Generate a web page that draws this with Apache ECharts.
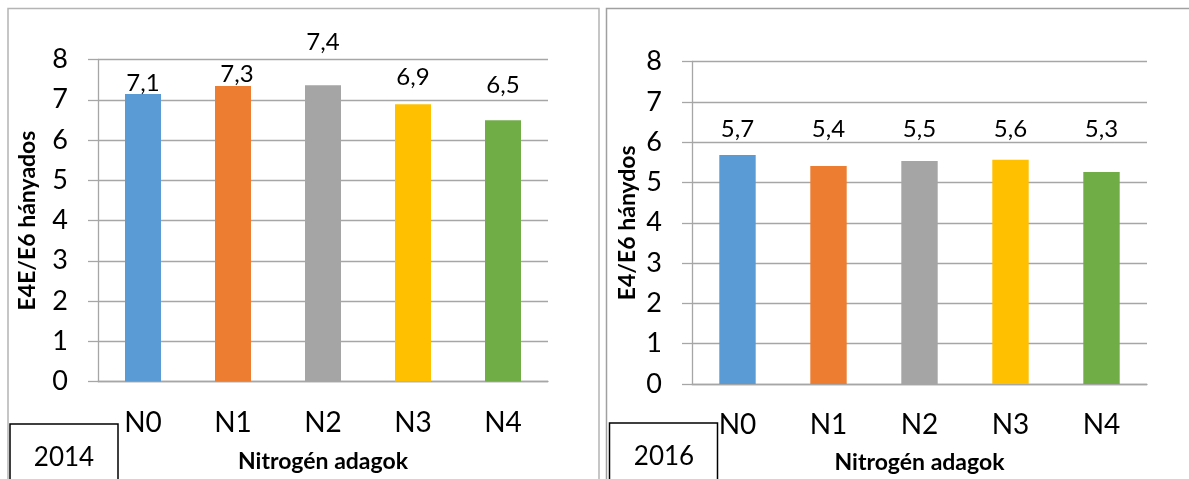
<!DOCTYPE html>
<html>
<head>
<meta charset="utf-8">
<script src="https://cdn.jsdelivr.net/npm/echarts@6/dist/echarts.min.js"></script>
<style>
html,body{margin:0;padding:0;background:#fff;}
#c{width:1189px;height:479px;}
</style>
</head>
<body>
<div id="c"></div>
<script>
// ---- data ----
var categories = ['N0', 'N1', 'N2', 'N3', 'N4'];
var values2014 = [7.14, 7.34, 7.36, 6.89, 6.49];
var values2016 = [5.68, 5.41, 5.53, 5.56, 5.26];
var yTicks = [0, 1, 2, 3, 4, 5, 6, 7, 8];
var yName2014 = 'E4E/E6 hányados';
var yName2016 = 'E4/E6 hánydos';
var xName = 'Nitrogén adagok';
var year1 = '2014';
var year2 = '2016';

// ---- styles ----
var barColors = ['#5B9BD5', '#ED7D31', '#A5A5A5', '#FFC000', '#70AD47'];
var lift2014 = [[0, 2], [4, 1], [0, -30], [0, -14], [0, -22]];
var lift2016 = [[0, -13], [0, -24], [0, -19], [0, -18], [0, -30]];
var FONT = 'Lato, "Open Sans", sans-serif';
var GRID = '#A6A6A6';

function fmt(v) { return v.toFixed(1).replace('.', ','); }

function seriesData(vals, lifts) {
  return vals.map(function (v, i) {
    return {
      value: v,
      itemStyle: { color: barColors[i] },
      label: { offset: lifts[i] }
    };
  });
}

function yAxis(idx, name, gap) {
  return {
    type: 'value', gridIndex: idx, min: yTicks[0], max: yTicks[yTicks.length - 1], interval: 1,
    name: name, nameLocation: 'middle', nameGap: gap,
    nameTextStyle: { fontFamily: FONT, fontWeight: 'bold', fontSize: 23, color: '#000' },
    axisLine: { show: true, lineStyle: { color: GRID, width: 1.3 } },
    axisTick: { show: true, length: 10, lineStyle: { color: GRID, width: 1.3 } },
    axisLabel: { margin: 30, fontFamily: FONT, fontSize: 27, color: '#000' },
    splitLine: { show: true, lineStyle: { color: GRID, width: 1.3 } }
  };
}

function xAxis(idx, gap) {
  return {
    type: 'category', gridIndex: idx, data: categories,
    name: xName, nameLocation: 'middle', nameGap: gap,
    nameTextStyle: { fontFamily: FONT, fontWeight: 'bold', fontSize: 23, color: '#000' },
    axisLine: { show: true, lineStyle: { color: GRID, width: 1.3 } },
    axisTick: { show: false },
    axisLabel: { margin: 27, fontFamily: FONT, fontSize: 28, color: '#000' }
  };
}

function barSeries(idx, vals, lifts) {
  return {
    type: 'bar', xAxisIndex: idx, yAxisIndex: idx,
    barWidth: '40%',
    data: seriesData(vals, lifts),
    label: {
      show: true, position: 'top', distance: 1,
      fontFamily: FONT, fontSize: 24, color: '#000',
      formatter: function (p) { return fmt(p.value); }
    },
    animation: false
  };
}

var chart = echarts.init(document.getElementById('c'), null, { renderer: 'canvas' });
chart.setOption({
  backgroundColor: '#fff',
  animation: false,
  grid: [
    { left: 98, top: 59.5, width: 450, height: 322 },
    { left: 692, top: 61.5, width: 455, height: 325 }
  ],
  xAxis: [xAxis(0, 69), xAxis(1, 67)],
  yAxis: [yAxis(0, yName2014, 59), yAxis(1, yName2016, 53)],
  series: [barSeries(0, values2014, lift2014), barSeries(1, values2016, lift2016)],
  graphic: [
    { type: 'rect', shape: { x: 8, y: 8.5, width: 591, height: 520 }, style: { fill: 'none', stroke: '#B4B4B4', lineWidth: 1.5 }, z: -1 },
    { type: 'rect', shape: { x: 606.5, y: 8.5, width: 700, height: 520 }, style: { fill: 'none', stroke: '#A0A0A0', lineWidth: 1.5 }, z: -1 },
    { type: 'rect', shape: { x: 10, y: 424, width: 108, height: 80 }, style: { fill: '#fff', stroke: '#000', lineWidth: 1.5 } },
    { type: 'text', style: { x: 64, y: 458, text: year1, textAlign: 'center', textVerticalAlign: 'middle', fontFamily: FONT, fontSize: 26, fill: '#000' } },
    { type: 'rect', shape: { x: 609.5, y: 423, width: 108, height: 80 }, style: { fill: '#fff', stroke: '#000', lineWidth: 1.5 } },
    { type: 'text', style: { x: 664, y: 457, text: year2, textAlign: 'center', textVerticalAlign: 'middle', fontFamily: FONT, fontSize: 26, fill: '#000' } }
  ]
});
</script>
</body>
</html>
